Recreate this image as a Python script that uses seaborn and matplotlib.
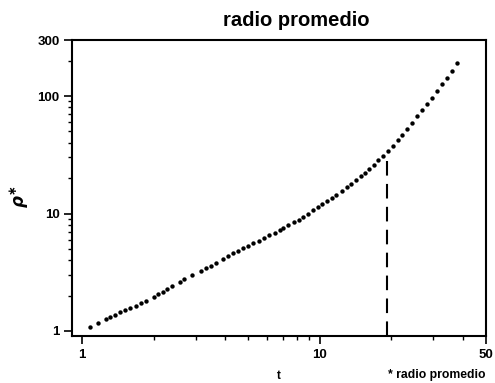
import matplotlib
matplotlib.use("Agg")
import matplotlib.pyplot as plt
from matplotlib.ticker import FixedLocator, LogLocator, NullFormatter
import seaborn as sns
import pandas as pd

# mean radius rho* versus time t (log-log)
t_values = [1.077, 1.164, 1.261, 1.311, 1.372, 1.448, 1.520, 1.596, 1.681, 1.765,
            1.852, 2.001, 2.086, 2.183, 2.287, 2.388, 2.573, 2.696, 2.913, 3.153,
            3.310, 3.474, 3.646, 3.925, 4.120, 4.319, 4.515, 4.757, 4.983, 5.245,
            5.526, 5.800, 6.135, 6.451, 6.770, 7.024, 7.372, 7.752, 8.137, 8.524,
            8.920, 9.328, 9.780, 10.22, 10.68, 11.23, 11.75, 12.34, 12.95, 13.57,
            14.17, 14.87, 15.50, 16.11, 16.86, 17.65, 18.52, 19.36, 20.32, 21.27,
            22.26, 23.21, 24.43, 25.64, 26.90, 28.24, 29.55, 31.02, 32.65, 34.17,
            35.86, 37.64]
rho_values = [1.088, 1.170, 1.266, 1.324, 1.369, 1.444, 1.511, 1.580, 1.644, 1.723,
              1.814, 1.962, 2.057, 2.165, 2.296, 2.421, 2.634, 2.778, 3.005, 3.251,
              3.414, 3.572, 3.804, 4.091, 4.323, 4.566, 4.797, 5.057, 5.260, 5.558,
              5.826, 6.180, 6.504, 6.858, 7.275, 7.522, 7.978, 8.429, 8.887, 9.428,
              9.961, 10.61, 11.29, 12.05, 12.79, 13.45, 14.38, 15.44, 16.77, 17.96,
              19.31, 20.73, 22.29, 23.78, 26.09, 28.39, 31.13, 34.35, 37.88, 42.05,
              46.74, 52.60, 59.18, 66.98, 75.38, 85.98, 95.96, 109.5, 125.6, 142.1,
              163.2, 189.8]

marker_t = 19.2
marker_rho_top = 28.8

x_ticks = [1, 10, 50]
x_tick_labels = ["1", "10", "50"]
y_ticks = [1, 10, 100, 300]
y_tick_labels = ["1", "10", "100", "300"]

title_text = "radio promedio"
series_name = "radio promedio"

df = pd.DataFrame({"t": t_values, "rho": rho_values})

sns.set_theme(style="white")
plt.rcParams["font.family"] = ["Liberation Sans", "DejaVu Sans"]
plt.rcParams["font.weight"] = "bold"
plt.rcParams["mathtext.fontset"] = "dejavusans"
for key in ["text.color", "axes.labelcolor", "xtick.color", "ytick.color",
            "axes.edgecolor"]:
    plt.rcParams[key] = "black"

fig = plt.figure(figsize=(4.95, 3.83), dpi=100)
ax = fig.add_axes([72 / 495, 47 / 383, 414 / 495, 296 / 383])

sns.scatterplot(data=df, x="t", y="rho", ax=ax, color="black", s=10,
                linewidth=0, legend=False)

ax.set_xscale("log")
ax.set_yscale("log")
ax.set_xlim(0.907, 50)
ax.set_ylim(0.906, 300)

# vertical dashed reference line
ax.plot([marker_t, marker_t], [0.906, marker_rho_top], color="black",
        lw=1.5, linestyle=(0, (7, 4)))

ax.xaxis.set_major_locator(FixedLocator(x_ticks))
ax.set_xticklabels(x_tick_labels)
ax.xaxis.set_minor_locator(LogLocator(base=10, subs=range(2, 10)))
ax.xaxis.set_minor_formatter(NullFormatter())
ax.yaxis.set_major_locator(FixedLocator(y_ticks))
ax.set_yticklabels(y_tick_labels)
ax.yaxis.set_minor_locator(LogLocator(base=10, subs=range(2, 10)))
ax.yaxis.set_minor_formatter(NullFormatter())

ax.tick_params(axis="both", which="major", direction="out", length=6,
               width=1.2, color="black", labelcolor="black", labelsize=9.5,
               pad=3, bottom=True, left=True)
ax.tick_params(axis="both", which="minor", direction="out", length=3,
               width=1.0, color="black", bottom=True, left=True)
for lab in ax.get_xticklabels() + ax.get_yticklabels():
    lab.set_fontweight("bold")

for side in ["left", "bottom", "top", "right"]:
    ax.spines[side].set_color("black")
    ax.spines[side].set_linewidth(1.5)

ax.set_xlabel("t", fontsize=8.5, fontweight="bold", color="black")
ax.xaxis.set_label_coords(0.5, -0.115)
ax.set_ylabel(r"$\rho^{\ast}$", fontsize=12, color="black")
ax.yaxis.set_label_coords(-0.10, 0.47)

fig.text(296.5 / 495, 1 - 20 / 383, title_text, ha="center", va="center",
         fontsize=14.5, fontweight="bold", color="black")
fig.text(486 / 495, 1 - 375 / 383, "* " + series_name, ha="right",
         va="center", fontsize=8.8, fontweight="bold", color="black")

fig.savefig("out.png", dpi=100)
